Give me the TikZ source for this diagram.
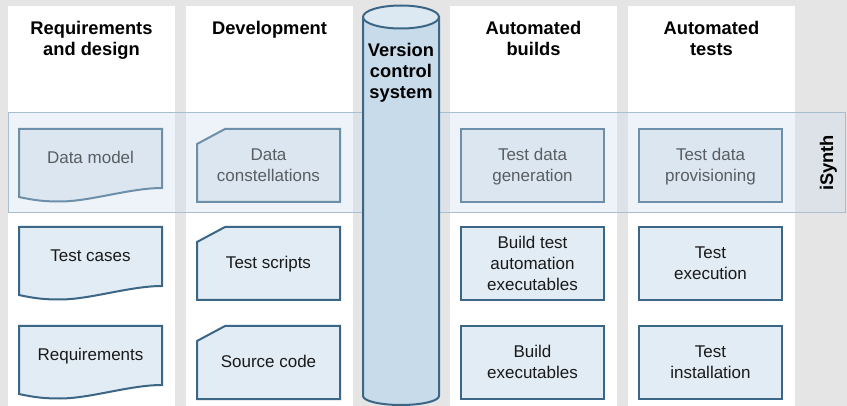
\documentclass[tikz,border=0pt]{standalone}
\usepackage{fontspec}
\setmainfont{Liberation Sans}
\definecolor{bggrey}{HTML}{E5E5E5}
\definecolor{boxfill}{HTML}{E2ECF4}
\definecolor{boxline}{HTML}{3B6686}
\definecolor{cylfill}{HTML}{C8DBEA}
\definecolor{cyltop}{HTML}{DCE8F2}
\definecolor{bandfill}{RGB}{206,221,235}
\definecolor{bandline}{HTML}{A9BFD0}
\definecolor{txt}{HTML}{1A1A1A}
\newcommand\mydoc[2]{\draw[shp, shift={(#1,#2)}] (0,0) -- (143,0) -- (143,59) .. controls (111,59) and (71,72.5) .. (41,72.5) .. controls (26,72.5) and (16,71.5) .. (0,68) -- cycle;}
\newcommand\mycard[2]{\draw[shp, shift={(#1,#2)}] (0,15) -- (28,0) -- (143,0) -- (143,73) -- (0,73) -- cycle;}
\newcommand\mybox[2]{\draw[shp, shift={(#1,#2)}] (0,0) rectangle (143,73);}
\begin{document}
\begin{tikzpicture}[x=1pt,y=-1pt,
  shp/.style={draw=boxline, fill=boxfill, line width=2pt},
  hd/.style={font=\fontsize{18.3}{21}\selectfont\bfseries, text=black, align=center, inner sep=0pt, anchor=base},
  bd/.style={font=\fontsize{17}{21.3}\selectfont, text=txt, align=center, inner sep=0pt, anchor=base},
  col/.style={fill=white}]
\useasboundingbox (0,0) rectangle (847,406);
\clip (0,0) rectangle (847,406);
\fill[bggrey] (0,0) rectangle (847,406);
% columns
\fill[col] (8,6) rectangle (175,406);
\fill[col] (186,6) rectangle (353,406);
\fill[col] (450,6) rectangle (617,406);
\fill[col] (628,6) rectangle (795,406);
% headers (base = last line baseline)
\node[hd] (h1) at (91.5,56) {Requirements\\and design};
\node[hd] (h2) at (269.5,35) {Development};
\node[hd] (h4) at (533.5,56) {Automated\\builds};
\node[hd] (h5) at (711.5,56) {Automated\\tests};
% row 1
\mydoc{19}{129}
\mycard{197}{129}
\mybox{461}{129}
\mybox{639}{129}
\node[bd] (dm) at (90.5,164) {Data model};
\node[bd] (dc) at (268.5,182) {Data\\constellations};
\node[bd] (tg) at (532.5,182) {Test data\\generation};
\node[bd] (tp) at (710.5,182) {Test data\\provisioning};
% band
\draw[draw=bandline, line width=1pt, fill=bandfill, fill opacity=0.35] (8,113) rectangle (845,213);
\node[hd, rotate=90] (is) at (833,163) {iSynth};
% row 2
\mydoc{19}{227}
\mycard{197}{227}
\mybox{461}{227}
\mybox{639}{227}
\node[bd] (tc) at (90.5,262) {Test cases};
\node[bd] (ts) at (268.5,269) {Test scripts};
\node[bd] (bt) at (532.5,291) {Build test\\automation\\executables};
\node[bd] (te) at (710.5,280) {Test\\execution};
% row 3
\mydoc{19}{326}
\mycard{197}{326}
\mybox{461}{326}
\mybox{639}{326}
\node[bd] (rq) at (90.5,361) {Requirements};
\node[bd] (sc) at (268.5,367) {Source code};
\node[bd] (be) at (532.5,379) {Build\\executables};
\node[bd] (ti) at (710.5,379) {Test\\installation};
% cylinder
\draw[draw=boxline, line width=2pt, fill=cylfill] (363,17) -- (363,396) arc[start angle=180, end angle=0, x radius=38, y radius=9] -- (439,17);
\draw[draw=boxline, line width=2pt, fill=cyltop] (401,17) ellipse[x radius=38, y radius=11.5];
\node[hd] (vcs) at (401,99) {Version\\control\\system};
\end{tikzpicture}
\end{document}
